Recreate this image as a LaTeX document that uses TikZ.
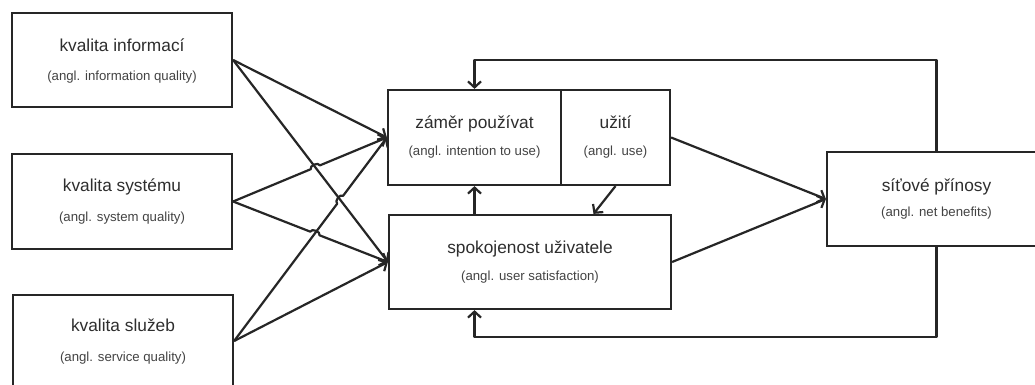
\documentclass[tikz,border=0pt]{standalone}
\usepackage{fontspec}
\setmainfont{Liberation Sans}
\usetikzlibrary{arrows.meta,calc,intersections}
\definecolor{ink}{HTML}{262626}
\definecolor{txt}{HTML}{2E2E2E}
\begin{document}
\begin{tikzpicture}[x=1pt,y=-1pt,
  box/.style={draw=ink,line width=2.2pt,inner sep=0pt,fill=none},
  maintxt/.style={anchor=base,inner sep=0pt,text=txt,font=\fontsize{17.3}{20}\selectfont},
  smalltxt/.style={anchor=base,inner sep=0pt,text=txt!90,font=\fontsize{13.2}{15}\selectfont},
  conn/.style={draw=ink,line width=2.2pt,line join=round},
  arr/.style={conn,-{Straight Barb[length=6pt,width=13pt,line width=2.2pt]}}]
\useasboundingbox (0,0) rectangle (1035,385);
\clip (0,0) rectangle (1035,385);
\fill[white] (0,0) rectangle (1035,385);

% boxes
\node[box,minimum width=220pt,minimum height=94pt] (info) at (122,60) {};
\node[box,minimum width=220pt,minimum height=95pt] (sys) at (122,201.5) {};
\node[box,minimum width=220pt,minimum height=92pt] (serv) at (123,341) {};
\node[box,minimum width=173pt,minimum height=95pt] (zam) at (474.5,137.5) {};
\node[box,minimum width=109pt,minimum height=95pt] (use) at (615.5,137.5) {};
\node[box,minimum width=282pt,minimum height=94pt] (sat) at (530,262) {};
\node[box,minimum width=219pt,minimum height=94pt] (net) at (936.5,199) {};

% labels
\node[maintxt] (infoA) at ([yshift=-40pt]info.north) {kvalita informací};
\node[smalltxt] (infoB) at ([yshift=-69pt]info.north) {(angl. information quality)};
\node[maintxt] (sysA) at ([yshift=-39pt]sys.north) {kvalita systému};
\node[smalltxt] (sysB) at ([yshift=-69pt]sys.north) {(angl. system quality)};
\node[maintxt] (servA) at ([yshift=-38pt]serv.north) {kvalita služeb};
\node[smalltxt] (servB) at ([yshift=-68pt]serv.north) {(angl. service quality)};
\node[maintxt] (zamA) at ([yshift=-40pt]zam.north) {záměr používat};
\node[smalltxt] (zamB) at ([yshift=-67pt]zam.north) {(angl. intention to use)};
\node[maintxt] (useA) at ([yshift=-40pt]use.north) {užití};
\node[smalltxt] (useB) at ([yshift=-67pt]use.north) {(angl. use)};
\node[maintxt] (satA) at ([yshift=-40pt]sat.north) {spokojenost uživatele};
\node[smalltxt] (satB) at ([yshift=-67pt]sat.north) {(angl. user satisfaction)};
\node[maintxt] (netA) at ([yshift=-41pt]net.north) {síťové přínosy};
\node[smalltxt] (netB) at ([yshift=-66pt]net.north) {(angl. net benefits)};

% crossing points
\path[name path=B] (info.east) -- (sat.west);
\path[name path=C] (sys.east) -- (zam.west);
\path[name path=D] (sys.east) -- (sat.west);
\path[name path=E] (serv.east) -- (zam.west);
\path[name intersections={of=B and C,by=xBC}];
\path[name intersections={of=B and E,by=xBE}];
\path[name intersections={of=D and E,by=xDE}];

% left connectors
\draw[arr] (info.east) -- (zam.west);
\draw[arr] (info.east) -- (sat.west);
\draw[arr] (sys.east) -- ($(xBC)!5pt!(sys.east)$) to[bend left=90] ($(xBC)!5pt!(zam.west)$) -- (zam.west);
\draw[arr] (sys.east) -- ($(xDE)!5pt!(sys.east)$) to[bend left=90] ($(xDE)!5pt!(sat.west)$) -- (sat.west);
\draw[arr] (serv.east) -- ($(xBE)!5pt!(serv.east)$) to[bend left=90] ($(xBE)!5pt!(zam.west)$) -- (zam.west);
\draw[arr] (serv.east) -- (sat.west);

% middle connectors
\draw[arr] (sat.north -| zam.south) -- (zam.south);
\draw[arr] (use.south) -- ([xshift=-22pt]use.south |- sat.north);
\draw[arr] (use.east) -- (net.west);
\draw[arr] (sat.east) -- (net.west);

% feedback loops
\coordinate (topR) at (net.north |- 0,60);
\coordinate (botR) at (net.south |- 0,337);
\draw[arr] (net.north) -- (topR) -| (zam.north);
\draw[arr] (net.south) -- (botR) -| (sat.south -| zam.north);
\end{tikzpicture}
\end{document}
